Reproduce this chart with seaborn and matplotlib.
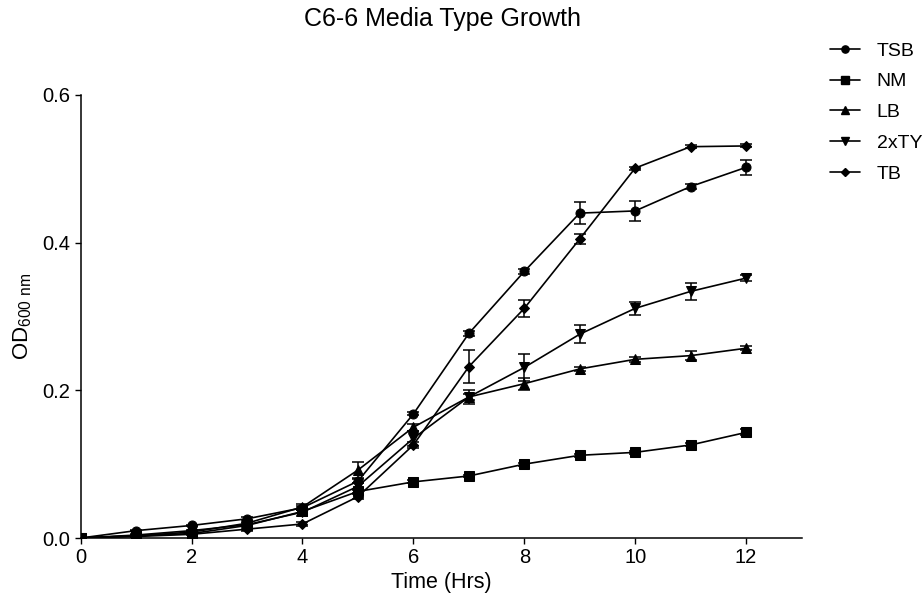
import numpy as np
import pandas as pd
import matplotlib
matplotlib.use("Agg")
import matplotlib.pyplot as plt
import seaborn as sns

hours = [0, 1, 2, 3, 4, 5, 6, 7, 8, 9, 10, 11, 12]
series_names = ["TSB", "NM", "LB", "2xTY", "TB"]
tsb = [0.0, 0.010, 0.017, 0.026, 0.041, 0.077, 0.168, 0.277, 0.361, 0.440, 0.443, 0.476, 0.502]
nm = [0.0, 0.003, 0.006, 0.017, 0.036, 0.063, 0.076, 0.084, 0.100, 0.112, 0.116, 0.126, 0.143]
lb = [0.0, 0.003, 0.008, 0.020, 0.042, 0.092, 0.150, 0.191, 0.209, 0.229, 0.242, 0.247, 0.257]
txty = [0.0, 0.004, 0.010, 0.018, 0.035, 0.070, 0.135, 0.191, 0.231, 0.276, 0.311, 0.334, 0.352]
tb = [0.0, 0.002, 0.005, 0.012, 0.019, 0.056, 0.126, 0.232, 0.311, 0.405, 0.501, 0.530, 0.531]
tsb_err = [0, 0.001, 0.001, 0.002, 0.003, 0.003, 0.002, 0.004, 0.003, 0.015, 0.013, 0.003, 0.010]
nm_err = [0, 0.001, 0.001, 0.001, 0.002, 0.002, 0.002, 0.002, 0.002, 0.002, 0.002, 0.002, 0.004]
lb_err = [0, 0.001, 0.001, 0.002, 0.004, 0.011, 0.005, 0.004, 0.008, 0.003, 0.003, 0.006, 0.003]
txty_err = [0, 0.001, 0.001, 0.002, 0.005, 0.004, 0.010, 0.010, 0.018, 0.012, 0.009, 0.012, 0.004]
tb_err = [0, 0.001, 0.001, 0.002, 0.003, 0.003, 0.004, 0.022, 0.011, 0.007, 0.002, 0.002, 0.002]
y_ticks = [0.0, 0.2, 0.4, 0.6]
x_ticks = [0, 2, 4, 6, 8, 10, 12]

values = [tsb, nm, lb, txty, tb]
errors = [tsb_err, nm_err, lb_err, txty_err, tb_err]
markers = ["o", "s", "^", "v", "D"]
msizes = [6.5, 6.5, 6.5, 6.5, 5.5]

rows = []
for name, vals, errs in zip(series_names, values, errors):
    for h, v, e in zip(hours, vals, errs):
        rows.append({"Time": h, "OD": v, "err": e, "Media": name})
df = pd.DataFrame(rows)

sns.set_style("ticks")
plt.rcParams["font.family"] = ["Liberation Sans", "DejaVu Sans"]
plt.rcParams["mathtext.fontset"] = "custom"
plt.rcParams["mathtext.rm"] = "Liberation Sans"
plt.rcParams["text.color"] = "black"
plt.rcParams["axes.labelcolor"] = "black"

fig = plt.figure(figsize=(9.23, 6.01), dpi=100)
W, H = 923, 601
x0, x13 = 80.7, 801.5
ytop, ybot = 95, 538
ax = fig.add_axes([x0 / W, (H - ybot) / H, (x13 - x0) / W, (ybot - ytop) / H])

handles = []
for name, m, ms in zip(series_names, markers, msizes):
    sub = df[df["Media"] == name]
    ax.errorbar(sub["Time"], sub["OD"], yerr=sub["err"], fmt="none",
                ecolor="black", elinewidth=1.1, capsize=4, capthick=1.1, zorder=2)
    sns.lineplot(data=sub, x="Time", y="OD", ax=ax, color="black", linewidth=1.2,
                 marker=m, markersize=ms, markeredgecolor="black", markerfacecolor="black",
                 errorbar=None, zorder=3)
    handles.append(plt.Line2D([], [], color="black", linewidth=1.2, marker=m,
                              markersize=ms * 0.8, markerfacecolor="black"))

ax.set_xlim(0, 13)
ax.set_ylim(0, 0.6)
ax.set_xticks(x_ticks)
ax.set_yticks(y_ticks)
ax.set_yticklabels([f"{t:.1f}" for t in y_ticks])
ax.tick_params(axis="both", labelsize=14.5, direction="out", length=4.5, width=1,
               colors="black", pad=3)
for s in ["left", "bottom"]:
    ax.spines[s].set_linewidth(1.1)
    ax.spines[s].set_color("black")
sns.despine(ax=ax)
ax.set_xlabel("Time (Hrs)", fontsize=15.5, labelpad=3)
ax.set_ylabel(r"OD$_{\mathrm{600\ nm}}$", fontsize=16, labelpad=6)
fig.text(442 / W, 1 - 19 / H, "C6-6 Media Type Growth", ha="center", va="center", fontsize=18)

leg = fig.legend(handles, series_names, loc="upper left", bbox_to_anchor=(830 / W, 1 - 42 / H),
                 frameon=False, fontsize=14, handlelength=1.55, labelspacing=0.68,
                 handletextpad=0.85, borderaxespad=0, borderpad=0)

fig.savefig("out.png", dpi=100)
